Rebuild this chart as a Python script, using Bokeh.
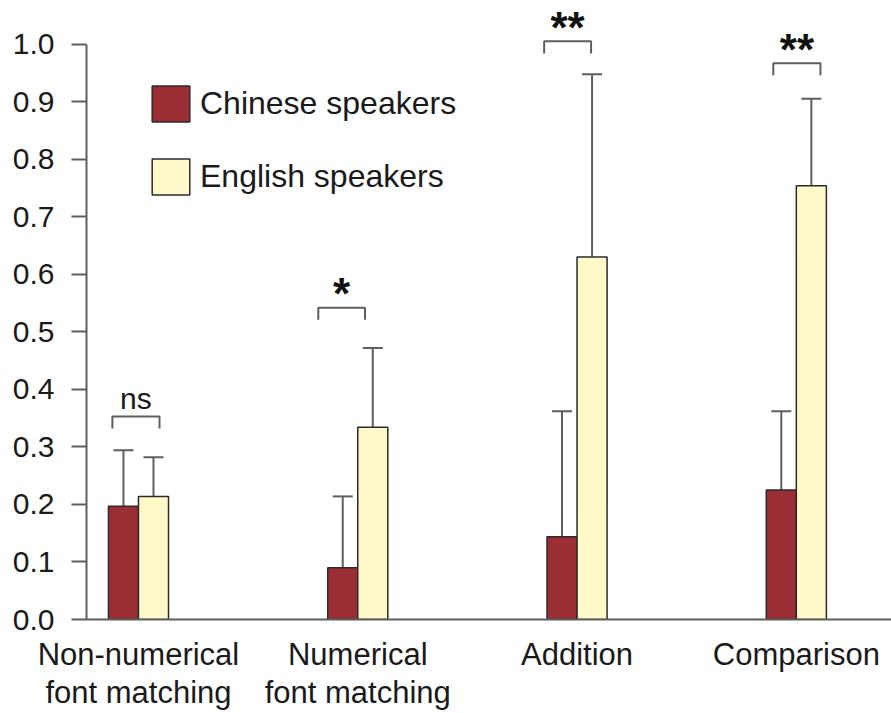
import numpy as np
from bokeh.plotting import figure
from bokeh.models import (ColumnDataSource, Range1d, FixedTicker, LinearAxis, Whisker,
                          TeeHead, Legend, LegendItem, NumeralTickFormatter)
from bokeh.core.properties import value
from bokeh.embed import file_html
from bokeh.resources import INLINE

# ---- data ----
categories = ["Non-numerical\nfont matching", "Numerical\nfont matching", "Addition", "Comparison"]
chinese = [0.197, 0.090, 0.144, 0.225]
chinese_err = [0.097, 0.124, 0.218, 0.137]
english = [0.214, 0.334, 0.630, 0.754]
english_err = [0.068, 0.138, 0.318, 0.151]
y_ticks = [0.0, 0.1, 0.2, 0.3, 0.4, 0.5, 0.6, 0.7, 0.8, 0.9, 1.0]
sig_labels = ["ns", "*", "**", "**"]
sig_bracket_top = [0.353, 0.542, 1.005, 0.967]

# annotation placement (relative to group centre)
bracket_left = [-0.119, -0.180, -0.150, -0.105]
bracket_right = [0.096, 0.033, 0.064, 0.110]

RED = "#9B2D35"
YEL = "#FFF8C8"
EDGE = "#2b2b2b"
AXIS = "#5e5e5e"
FONT = "Liberation Sans"

bw = 0.137
idx = np.arange(len(categories))

src_c = ColumnDataSource(dict(x=idx - bw / 2, top=chinese,
                              hi=np.array(chinese) + np.array(chinese_err)))
src_e = ColumnDataSource(dict(x=idx + bw / 2, top=english,
                              hi=np.array(english) + np.array(english_err)))

p = figure(width=891, height=713, output_backend="svg", toolbar_location=None,
           x_range=Range1d(-0.237, 3.434), y_range=Range1d(0, 1.076),
           x_axis_type=None, y_axis_type=None,
           min_border_left=86, min_border_right=0, min_border_top=0, min_border_bottom=0)
p.outline_line_color = None
p.xgrid.visible = False
p.ygrid.visible = False
p.background_fill_color = "white"
p.border_fill_color = "white"

# axes
yax = LinearAxis(ticker=FixedTicker(ticks=y_ticks), bounds=(0, 1.0),
                 formatter=NumeralTickFormatter(format="0.0"))
yax.axis_line_color = AXIS
yax.axis_line_width = 2
yax.major_tick_line_color = AXIS
yax.major_tick_line_width = 2
yax.major_tick_out = 15
yax.major_tick_in = 0
yax.minor_tick_line_color = None
yax.major_label_standoff = 17
yax.major_label_text_font = FONT
yax.major_label_text_font_size = "30px"
yax.major_label_text_color = "#1a1a1a"
p.add_layout(yax, "left")

xax = LinearAxis(ticker=FixedTicker(ticks=list(idx)),
                 major_label_overrides={int(i): c for i, c in zip(idx, categories)})
xax.axis_line_color = AXIS
xax.axis_line_width = 2
xax.major_tick_line_color = None
xax.major_tick_out = 0
xax.major_tick_in = 0
xax.minor_tick_line_color = None
xax.major_label_standoff = 17
xax.major_label_text_font = FONT
xax.major_label_text_font_size = "31px"
xax.major_label_text_line_height = 1.1
xax.major_label_text_color = "#1a1a1a"
p.add_layout(xax, "below")

# error bars (upper only)
for src in (src_c, src_e):
    w = Whisker(source=src, base="x", lower="top", upper="hi", dimension="height",
                line_color=AXIS, line_width=2,
                upper_head=TeeHead(size=20, line_color=AXIS, line_width=2),
                lower_head=None)
    p.add_layout(w)

# bars
r_c = p.vbar(x="x", top="top", bottom=0, width=bw, source=src_c,
             fill_color=RED, line_color=EDGE, line_width=1.5)
r_e = p.vbar(x="x", top="top", bottom=0, width=bw, source=src_e,
             fill_color=YEL, line_color=EDGE, line_width=1.5)

# significance brackets
leg = 0.021
xs, ys = [], []
for i in idx:
    l = i + bracket_left[i]
    r = i + bracket_right[i]
    t = sig_bracket_top[i]
    xs.append([l, l, r, r])
    ys.append([t - leg, t, t, t - leg])
p.multi_line(xs=xs, ys=ys, line_color=AXIS, line_width=2)

tx = [i + (bracket_left[i] + bracket_right[i]) / 2 for i in idx]
ns_src = ColumnDataSource(dict(x=[tx[0]], y=[sig_bracket_top[0] + 0.032], t=[sig_labels[0]]))
p.text(x="x", y="y", text="t", source=ns_src, text_font=value(FONT),
       text_font_size="30px", text_align="center", text_baseline="middle", text_color="#1a1a1a")
st_src = ColumnDataSource(dict(x=tx[1:], y=[t + 0.024 for t in sig_bracket_top[1:]], t=sig_labels[1:]))
p.text(x="x", y="y", text="t", source=st_src, text_font=value(FONT),
       text_font_size="44px", text_font_style="bold", text_align="center",
       text_baseline="alphabetic", text_color="#111111")

legend = Legend(items=[LegendItem(label="Chinese speakers", renderers=[r_c]),
                       LegendItem(label="English speakers", renderers=[r_e])],
                location=(61, 420), glyph_width=47, glyph_height=45, label_height=45,
                spacing=28, padding=0, margin=0, label_standoff=6,
                label_text_font=FONT, label_text_font_size="32px", label_text_color="#1a1a1a",
                border_line_color=None, background_fill_alpha=0)
p.add_layout(legend)

open("out.html", "w").write(file_html(p, INLINE))
